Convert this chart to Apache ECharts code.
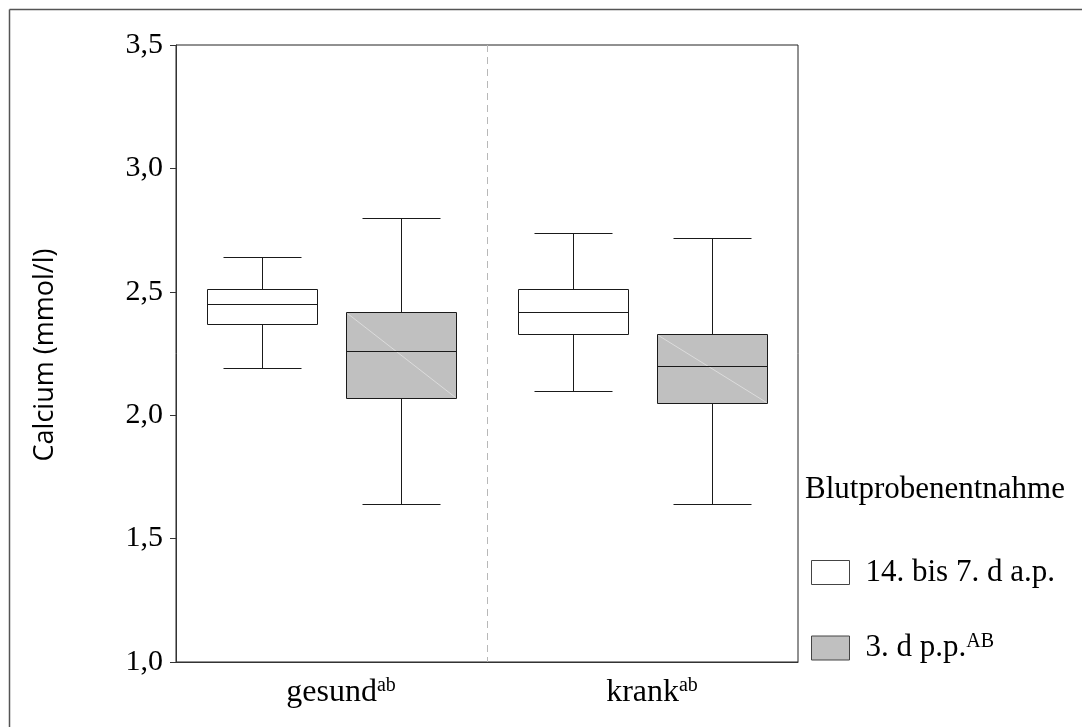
<!DOCTYPE html>
<html>
<head>
<meta charset="utf-8">
<script src="https://cdn.jsdelivr.net/npm/echarts@6/dist/echarts.min.js"></script>
<style>
  html, body { margin: 0; padding: 0; background: #fff; }
  #chart { width: 1082px; height: 727px; }
</style>
</head>
<body>
<div id="chart"></div>
<script>
// Groups on the x axis and their superscript marks
const groups = ['gesund', 'krank'];
const groupSup = ['ab', 'ab'];

// Sampling times (legend entries) and their superscript marks
const samplingNames = ['14. bis 7. d a.p.', '3. d p.p.'];
const samplingSup = ['', 'AB'];

// Calcium (mmol/l) per group: [min, Q1, median, Q3, max]
const calciumAnte = [
  [2.19, 2.37, 2.45, 2.51, 2.64],
  [2.10, 2.33, 2.42, 2.51, 2.74]
];
const calciumPost = [
  [1.64, 2.07, 2.26, 2.42, 2.80],
  [1.64, 2.05, 2.20, 2.33, 2.72]
];

// Value axis range
const yMin = 1.0, yMax = 3.5, yStep = 0.5;

const SERIF = "'Liberation Serif', 'Times New Roman', serif";
const SANS = "'Open Sans', 'Liberation Sans', sans-serif";
const INK = '#1a1a1a';

const crisp = v => Math.round(v) + 0.5;

// Box-and-whisker glyph placed at a fraction of the category band
function boxRenderer(offsetFrac, fill, withDiagonal) {
  return function (params, api) {
    const i = api.value(0);
    const band = api.size([1, 0])[0];
    const cx = crisp(api.coord([i, yMin])[0] + offsetFrac * band);
    const half = Math.round(0.354 * band / 2);
    const cap = Math.round(0.25 * band / 2);
    const y = k => crisp(api.coord([i, api.value(k)])[1]);
    const yLo = y(1), yQ1 = y(2), yMed = y(3), yQ3 = y(4), yHi = y(5);
    const line = { stroke: INK, lineWidth: 1 };
    const children = [
      { type: 'line', shape: { x1: cx, y1: yHi, x2: cx, y2: yQ3 }, style: line },
      { type: 'line', shape: { x1: cx, y1: yQ1, x2: cx, y2: yLo }, style: line },
      { type: 'line', shape: { x1: cx - cap, y1: yHi, x2: cx + cap, y2: yHi }, style: line },
      { type: 'line', shape: { x1: cx - cap, y1: yLo, x2: cx + cap, y2: yLo }, style: line },
      { type: 'rect', shape: { x: cx - half, y: yQ3, width: 2 * half, height: yQ1 - yQ3 },
        style: { fill: fill, stroke: INK, lineWidth: 1 } }
    ];
    if (withDiagonal) {
      children.push({ type: 'line',
        shape: { x1: cx - half + 1, y1: yQ3 + 1, x2: cx + half - 1, y2: yQ1 - 1 },
        style: { stroke: '#dcdcdc', lineWidth: 1 } });
    }
    children.push({ type: 'line', shape: { x1: cx - half, y1: yMed, x2: cx + half, y2: yMed }, style: line });
    return { type: 'group', children: children };
  };
}

const chart = echarts.init(document.getElementById('chart'), null, { renderer: 'canvas' });

chart.setOption({
  backgroundColor: '#fff',
  animation: false,
  title: {
    text: 'Blutprobenentnahme',
    left: 805,
    top: 474,
    padding: 0,
    textStyle: { fontFamily: SERIF, fontSize: 31, fontWeight: 'normal', color: '#000' }
  },
  legend: {
    orient: 'vertical',
    left: 811,
    top: 557,
    padding: 0,
    itemWidth: 38,
    itemHeight: 24,
    itemGap: 44,
    selectedMode: false,
    icon: 'rect',
    data: [
      { name: samplingNames[0], itemStyle: { color: '#ffffff', borderColor: '#444', borderWidth: 1 } },
      { name: samplingNames[1], itemStyle: { color: '#c0c0c0', borderColor: '#444', borderWidth: 1 } }
    ],
    formatter: function (name) {
      const i = samplingNames.indexOf(name);
      return '{t|' + name + '}' + (samplingSup[i] ? '{sup|' + samplingSup[i] + '}' : '');
    },
    textStyle: {
      fontFamily: SERIF, fontSize: 31, color: '#000',
      rich: {
        t: { fontFamily: SERIF, fontSize: 31, color: '#000', lineHeight: 32, padding: [0, 0, 0, 11] },
        sup: { fontFamily: SERIF, fontSize: 20, color: '#000', lineHeight: 18, verticalAlign: 'top' }
      }
    }
  },
  grid: {
    left: 176, right: 284, top: 45, bottom: 65,
    show: true, borderColor: '#222', borderWidth: 1
  },
  xAxis: {
    type: 'category',
    data: groups,
    boundaryGap: true,
    axisLine: { show: true, lineStyle: { color: '#333', width: 1 } },
    axisTick: { show: false },
    splitLine: {
      show: true, showMinLine: false, showMaxLine: false,
      lineStyle: { color: '#b8b8b8', width: 1, type: [7, 5] }
    },
    axisLabel: {
      margin: 14,
      formatter: function (value, idx) {
        return '{pad|}{main|' + value + '}{sup|' + groupSup[idx] + '}';
      },
      rich: {
        pad: { width: 19 },
        main: { fontFamily: SERIF, fontSize: 32, color: '#000', lineHeight: 34 },
        sup: { fontFamily: SERIF, fontSize: 20, color: '#000', lineHeight: 20, verticalAlign: 'top' }
      }
    }
  },
  yAxis: {
    type: 'value',
    min: yMin, max: yMax, interval: yStep,
    axisLine: { show: true, lineStyle: { color: '#333', width: 1 } },
    axisTick: { show: true, length: 6, lineStyle: { color: '#333' } },
    splitLine: { show: false },
    axisLabel: {
      margin: 13,
      fontFamily: SERIF, fontSize: 30, color: '#000',
      formatter: v => v.toFixed(1).replace('.', ',')
    }
  },
  graphic: [
    { type: 'line', shape: { x1: 9.5, y1: 9.5, x2: 1082, y2: 9.5 }, style: { stroke: '#555', lineWidth: 1.5 } },
    { type: 'line', shape: { x1: 9.5, y1: 9.5, x2: 9.5, y2: 727 }, style: { stroke: '#555', lineWidth: 1.5 } },
    {
      type: 'text', x: 45, y: 355, rotation: Math.PI / 2,
      style: { text: 'Calcium (mmol/l)', fontFamily: SANS, fontSize: 27, fill: '#000', align: 'center', verticalAlign: 'middle' }
    }
  ],
  series: [
    {
      name: samplingNames[0],
      type: 'custom',
      renderItem: boxRenderer(-0.222, '#ffffff', false),
      encode: { x: 0, y: [1, 2, 3, 4, 5] },
      itemStyle: { color: '#ffffff', borderColor: '#444' },
      data: calciumAnte.map((r, i) => [i].concat(r))
    },
    {
      name: samplingNames[1],
      type: 'custom',
      renderItem: boxRenderer(0.222, '#c0c0c0', true),
      encode: { x: 0, y: [1, 2, 3, 4, 5] },
      itemStyle: { color: '#c0c0c0', borderColor: '#444' },
      data: calciumPost.map((r, i) => [i].concat(r))
    }
  ]
});
</script>
</body>
</html>
